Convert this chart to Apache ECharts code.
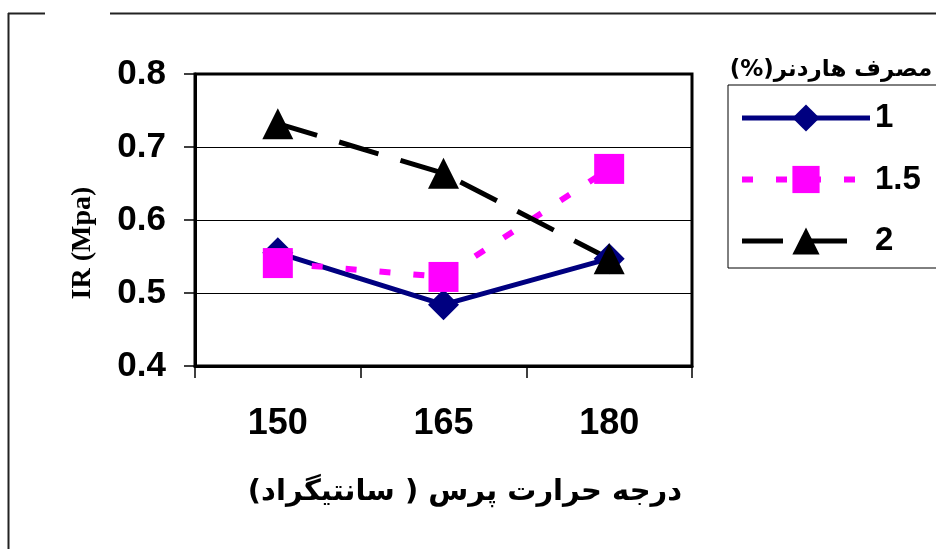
<!DOCTYPE html>
<html>
<head>
<meta charset="utf-8">
<script src="https://cdn.jsdelivr.net/npm/echarts@6/dist/echarts.min.js"></script>
<style>
html,body{margin:0;padding:0;background:#fff;}
#chart{width:936px;height:549px;}
</style>
</head>
<body>
<div id="chart"></div>
<script>
const categories = ['150', '165', '180'];
const seriesNames = ['1', '1.5', '2'];
const values1 = [0.555, 0.484, 0.547];
const values15 = [0.541, 0.522, 0.670];
const values2 = [0.732, 0.664, 0.547];
const yTicks = { min: 0.4, max: 0.8, interval: 0.1 };
const RLM = '\u200F';
const xTitle = RLM + 'درجه حرارت پرس ( سانتیگراد)' + RLM;
const legendTitle = RLM + 'مصرف هاردنر(%)' + RLM;
const yTitle = 'IR (Mpa)';

const chart = echarts.init(document.getElementById('chart'), null, { renderer: 'canvas' });
const latin = 'Liberation Sans, Arial, sans-serif';
const arabic = 'DejaVu Sans, Noto Sans, sans-serif';

chart.setOption({
  animation: false,
  backgroundColor: '#fff',
  title: [
    {
      text: xTitle, left: 460, top: 473, textAlign: 'center',
      textStyle: { fontFamily: arabic, fontWeight: 'bold', fontSize: 29, color: '#000' }
    },
    {
      text: legendTitle, left: 826, top: 54, textAlign: 'center',
      textStyle: { fontFamily: arabic, fontWeight: 'bold', fontSize: 23, color: '#000' }
    }
  ],
  graphic: [
    { type: 'line', shape: { x1: 8.5, y1: 13, x2: 8.5, y2: 549 }, style: { stroke: '#222', lineWidth: 2 } },
    { type: 'line', shape: { x1: 8, y1: 13.5, x2: 45, y2: 13.5 }, style: { stroke: '#222', lineWidth: 2 } },
    { type: 'line', shape: { x1: 110, y1: 13.5, x2: 936, y2: 13.5 }, style: { stroke: '#222', lineWidth: 2 } },
    {
      type: 'text', x: 83, y: 243, rotation: Math.PI / 2,
      style: { text: yTitle, font: 'bold 28px "Liberation Serif", "Times New Roman", serif', fill: '#000', align: 'center', verticalAlign: 'middle' }
    }
  ],
  legend: {
    data: seriesNames,
    orient: 'vertical',
    left: 728, top: 85,
    padding: [16, 17, 10, 11],
    itemWidth: 128, itemHeight: 34, itemGap: 27.5,
    borderColor: '#000', borderWidth: 1,
    lineStyle: { width: 'inherit' },
    textStyle: { fontFamily: latin, fontWeight: 'bold', fontSize: 33, color: '#000', lineHeight: 34 }
  },
  grid: {
    left: 195, right: 244, top: 74, bottom: 183,
    show: true, borderColor: '#000', borderWidth: 3, backgroundColor: 'transparent'
  },
  xAxis: {
    type: 'category', data: categories, boundaryGap: true,
    axisLine: { lineStyle: { color: '#000', width: 3 } },
    axisTick: { show: true, length: 12, lineStyle: { color: '#000', width: 1.5 } },
    axisLabel: { fontFamily: latin, fontWeight: 'bold', fontSize: 36, color: '#000', margin: 40 },
    splitLine: { show: false }
  },
  yAxis: {
    type: 'value', min: yTicks.min, max: yTicks.max, interval: yTicks.interval,
    axisLine: { show: true, lineStyle: { color: '#000', width: 3 } },
    axisTick: { show: true, length: 11, lineStyle: { color: '#000', width: 1.5 } },
    axisLabel: { fontFamily: latin, fontWeight: 'bold', fontSize: 35, color: '#000', margin: 29,
      formatter: v => v.toFixed(1) },
    splitLine: { show: true, lineStyle: { color: '#000', width: 1 } }
  },
  series: [
    {
      name: seriesNames[0], type: 'line', data: values1,
      symbol: 'diamond', symbolSize: 31,
      itemStyle: { color: '#000080' },
      lineStyle: { color: '#000080', width: 5 }
    },
    {
      name: seriesNames[1], type: 'line', data: values15,
      symbol: 'rect', symbolSize: 30,
      itemStyle: { color: '#FF00FF' },
      lineStyle: { color: '#FF00FF', width: 6, type: [11, 23] }
    },
    {
      name: seriesNames[2], type: 'line', data: values2,
      symbol: 'triangle', symbolSize: 31,
      itemStyle: { color: '#000' },
      lineStyle: { color: '#000', width: 5, type: [41, 23] }
    }
  ]
});
</script>
</body>
</html>
